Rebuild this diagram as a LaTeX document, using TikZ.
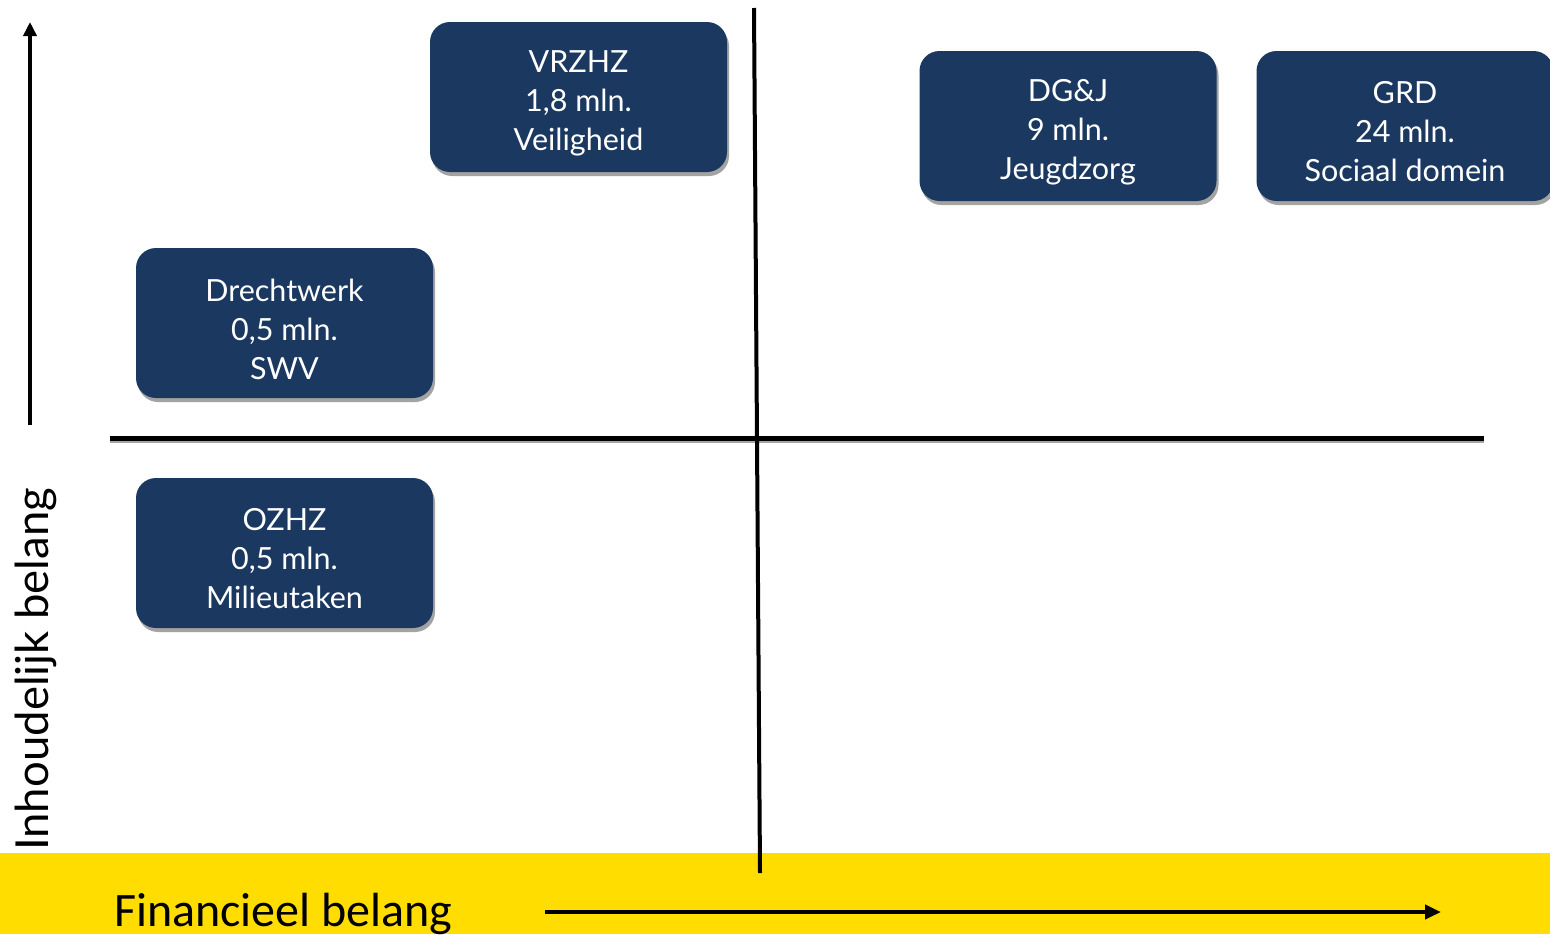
\documentclass[tikz,border=0pt]{standalone}
\usepackage{fontspec}
\setmainfont{Lato}
\newfontfamily\calib{Carlito}
\usetikzlibrary{shadows,arrows.meta,calc}
\definecolor{navy}{RGB}{26,56,96}
\definecolor{band}{RGB}{255,221,0}
\tikzset{
  orgbox/.style={fill=navy, rounded corners=20bp, minimum width=297bp, minimum height=150bp,
    drop shadow={shadow xshift=2bp, shadow yshift=-4bp, fill=black!45, opacity=0.8}},
  boxtext/.style={text=white, align=center, font=\fontsize{30.5bp}{39bp}\selectfont, yshift=-6bp},
  axisline/.style={line width=4bp, black},
}
\begin{document}
\begin{tikzpicture}[x=1bp,y=-1bp]
\useasboundingbox (0,0) rectangle (1550,934);
\fill[band] (0,853) rectangle (1550,934);
\begin{scope}
\clip (0,0) rectangle (1550,934);
\node[orgbox, label={[boxtext]center:{VRZHZ\\1,8 mln.\\Veiligheid}}] (vrzhz) at (578.5,97) {};
\node[orgbox, label={[boxtext]center:{DG\&J\\9 mln.\\Jeugdzorg}}] (dgj) at (1068,126) {};
\node[orgbox, label={[boxtext]center:{GRD\\24 mln.\\Sociaal domein}}] (grd) at (1405,126) {};
\node[orgbox, label={[boxtext]center:{Drechtwerk\\0,5 mln.\\SWV}}] (drecht) at (284.5,323) {};
\node[orgbox, label={[boxtext]center:{OZHZ\\0,5 mln.\\Milieutaken}}] (ozhz) at (284.5,553) {};
\end{scope}
\coordinate (vtop) at (754,8);
\coordinate (vbot) at (760,873);
\coordinate (hl) at (110,438);
\coordinate (hr) at (1484,438);
\draw[line width=4bp, black!35] ($(hl)+(0,3)$) -- ($(hr)+(0,3)$);
\draw[axisline, line width=5bp] (hl) -- (hr);
\draw[axisline] (vtop) -- (vbot);
\coordinate (ub) at (30,425);
\coordinate (ut) at (30,22);
\draw[axisline, -{Triangle[length=14bp,width=13bp]}] (ub) -- (ut);
\coordinate (rl) at (545,912);
\coordinate (rr) at (1441,912);
\draw[axisline, -{Triangle[length=16bp,width=14bp]}] (rl) -- (rr);
\node[anchor=base west, font=\calib\fontsize{48bp}{50bp}\selectfont, inner sep=0] (fin) at (114,926) {Financieel belang};
\node[anchor=base west, rotate=90, font=\fontsize{45.5bp}{48bp}\selectfont, inner sep=0] (inh) at (48,851) {Inhoudelijk belang};
\end{tikzpicture}
\end{document}
